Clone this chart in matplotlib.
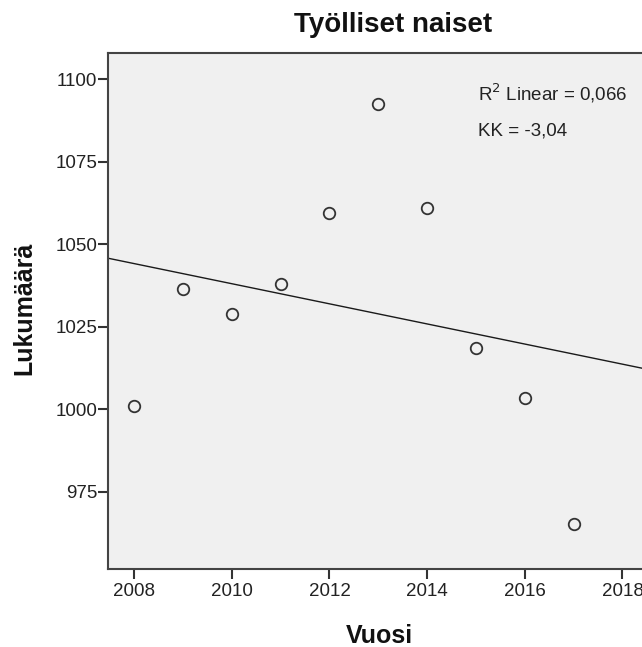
import numpy as np
import matplotlib
matplotlib.use("Agg")
import matplotlib.pyplot as plt

plt.rcParams['font.family'] = ['Liberation Sans', 'DejaVu Sans']

years = [2008, 2009, 2010, 2011, 2012, 2013, 2014, 2015, 2016, 2017]
values = [1001.0, 1036.5, 1028.8, 1037.9, 1059.6, 1092.6, 1060.9, 1018.6, 1003.4, 965.2]
xticks = [2008, 2010, 2012, 2014, 2016, 2018]
yticks = [975, 1000, 1025, 1050, 1075, 1100]
title = "Työlliset naiset"
xlabel = "Vuosi"
ylabel = "Lukumäärä"
r2_text = "R$^2$ Linear = 0,066"
kk_text = "KK = -3,04"

W, H = 642, 647
fig = plt.figure(figsize=(W / 100, H / 100), dpi=100)
left, right, top, bottom = 108.3, 642, 53.3, 568.7
ax = fig.add_axes([left / W, 1 - bottom / H, (right - left) / W, (bottom - top) / H])
ax.set_facecolor('#F0F0F0')

xlim = (2007.47, 2018.40)
ylim = (951.7, 1107.9)
ax.set_xlim(*xlim)
ax.set_ylim(*ylim)

x = np.array(years, dtype=float)
y = np.array(values, dtype=float)
k, b = np.polyfit(x, y, 1)
xl = np.array(xlim)
ax.plot(xl, k * xl + b, color='#1a1a1a', lw=1.0, zorder=2)

ax.plot(x, y, linestyle='none', marker='o', markersize=8.3, markerfacecolor='none',
        markeredgecolor='#333333', markeredgewidth=1.3, zorder=3)

for s in ['left', 'bottom', 'top']:
    ax.spines[s].set_color('#444444')
    ax.spines[s].set_linewidth(1.5)
ax.spines['right'].set_visible(False)

ax.set_xticks(xticks)
ax.set_yticks(yticks)
ax.tick_params(axis='both', direction='out', length=7, width=1.5, color='#333333',
               labelsize=13.5, labelcolor='#222222')
ax.tick_params(axis='x', pad=3)
ax.tick_params(axis='y', pad=1)

fig.text(393.3 / W, 1 - 31.7 / H, title, ha='center', va='baseline',
         fontsize=20, fontweight='bold', color='#111111')
fig.text(379 / W, 1 - 642.7 / H, xlabel, ha='center', va='baseline',
         fontsize=18, fontweight='bold', color='#111111')
fig.text(24 / W, 1 - 308 / H, ylabel, ha='center', va='center', rotation=90,
         fontsize=18, fontweight='bold', color='#111111')

fig.text(478.3 / W, 1 - 100.7 / H, r2_text, ha='left', va='baseline',
         fontsize=13.5, color='#222222')
fig.text(478.3 / W, 1 - 136 / H, kk_text, ha='left', va='baseline',
         fontsize=13.5, color='#222222')

fig.savefig('out.png', dpi=100)
